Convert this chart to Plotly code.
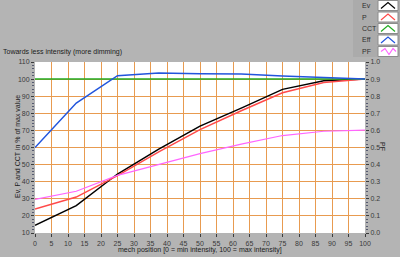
import plotly.graph_objects as go

# ---- data ----
mech_position = [0, 12.5, 25, 37.5, 50, 62.5, 75, 87.5, 100]
ev = [14.5, 26, 44.5, 59, 72.5, 83, 94, 99, 100]
p = [24, 31, 43.5, 57.5, 70.5, 81.5, 92, 98, 100]
cct = [100, 100, 100, 100, 100, 100, 100, 100, 100]
eff = [60, 86, 102, 103.6, 103.2, 103, 101.8, 100.8, 100]
pf = [0.197, 0.244, 0.337, 0.40, 0.464, 0.52, 0.57, 0.595, 0.602]

series_names = ["Ev", "P", "CCT", "Eff", "PF"]
series_colors = ["#000000", "#FF4A4A", "#22AA22", "#2255DD", "#FF66FF"]

x_ticks = list(range(0, 101, 5))
y_ticks = list(range(10, 111, 10))

W, H = 400, 257
L, R, T, B = 35, 35, 62, 24
pw, ph = W - L - R, H - T - B


def px(xp):
    return (xp - L) / pw


def py(yp):
    return (H - B - yp) / ph


font = "Liberation Sans, Arial, sans-serif"
tick_col = "#3A3A3A"
grid_col = "#E89B50"

fig = go.Figure()
left_series = [ev, p, cct, eff]
for name, vals, col in zip(series_names[:4], left_series, series_colors[:4]):
    fig.add_trace(go.Scatter(x=mech_position, y=vals, mode="lines", name=name,
                             line=dict(color=col, width=1.5), showlegend=False))
fig.add_trace(go.Scatter(x=mech_position, y=pf, mode="lines", name="PF", yaxis="y2",
                         line=dict(color=series_colors[4], width=1.2), showlegend=False))

axis_common = dict(ticks="outside", ticklen=3, tickcolor=tick_col, tickwidth=1,
                   tickfont=dict(family=font, size=7, color=tick_col),
                   showline=False, zeroline=False, automargin=False)

fig.update_layout(
    width=W, height=H,
    margin=dict(l=L, r=R, t=T, b=B),
    paper_bgcolor="#B4B4B4",
    plot_bgcolor="#FFFFFF",
    xaxis=dict(range=[0, 100], tickvals=x_ticks, showgrid=True, gridcolor=grid_col,
               gridwidth=1, ticklabelstandoff=1,
               **axis_common),
    yaxis=dict(range=[10, 110], tickvals=y_ticks, showgrid=True, gridcolor=grid_col,
               gridwidth=1,
               minor=dict(dtick=2, ticklen=2, tickcolor="#555a70", ticks="outside", showgrid=False),
               **axis_common),
    yaxis2=dict(range=[0, 1], dtick=0.1, tickformat=".1f", overlaying="y", side="right",
                showgrid=False,
                minor=dict(dtick=0.02, ticklen=2, tickcolor="#555a70", ticks="outside", showgrid=False),
                **axis_common),
)

title_font = dict(family=font, size=7, color="#202020")
# axis titles as annotations for exact placement
fig.add_annotation(x=px(200), y=py(250), xref="paper", yref="paper", xanchor="center",
                   yanchor="middle", showarrow=False, font=title_font,
                   text="mech position [0 = min intensity, 100 = max intensity]")
fig.add_annotation(x=px(17), y=py(147), xref="paper", yref="paper", xanchor="center",
                   yanchor="middle", showarrow=False, font=title_font, textangle=-90,
                   text="Ev, P and CCT in % of max value")
fig.add_annotation(x=px(383), y=py(147), xref="paper", yref="paper", xanchor="center",
                   yanchor="middle", showarrow=False, font=title_font, textangle=90,
                   text="PF")

# title text above the plot
fig.add_annotation(x=px(1), y=py(52), xref="paper", yref="paper", xanchor="left", yanchor="middle",
                   text="Towards less intensity (more dimming)", showarrow=False,
                   font=title_font)

# legend panel (top right)
fig.add_shape(type="rect", xref="paper", yref="paper",
              x0=px(353), x1=px(400), y0=py(57), y1=py(0),
              fillcolor="#ABABAB", line=dict(width=0), layer="below")
row_h = 11.5
for i, (name, col) in enumerate(zip(series_names, series_colors)):
    top = 0.5 + i * row_h
    bot = top + 10
    cy = (top + bot) / 2
    fig.add_annotation(x=px(360), y=py(cy), xref="paper", yref="paper", xanchor="left",
                       yanchor="middle", text=name, showarrow=False,
                       font=dict(family=font, size=7, color="#303030"))
    fig.add_shape(type="rect", xref="paper", yref="paper",
                  x0=px(378), x1=px(398), y0=py(bot), y1=py(top),
                  fillcolor="#FFFFFF", line=dict(color="#8C8C8C", width=1))
    if name == "PF":
        pts = [(381, cy), (385, cy - 3), (389, cy + 3), (393, cy - 3), (396, cy)]
    else:
        pts = [(381, cy + 3), (388, cy - 3), (395, cy + 3)]
    path = "M " + " L ".join(f"{px(a)},{py(b)}" for a, b in pts)
    fig.add_shape(type="path", xref="paper", yref="paper", path=path,
                  line=dict(color=col, width=1.2))

fig.write_html("out.html")
